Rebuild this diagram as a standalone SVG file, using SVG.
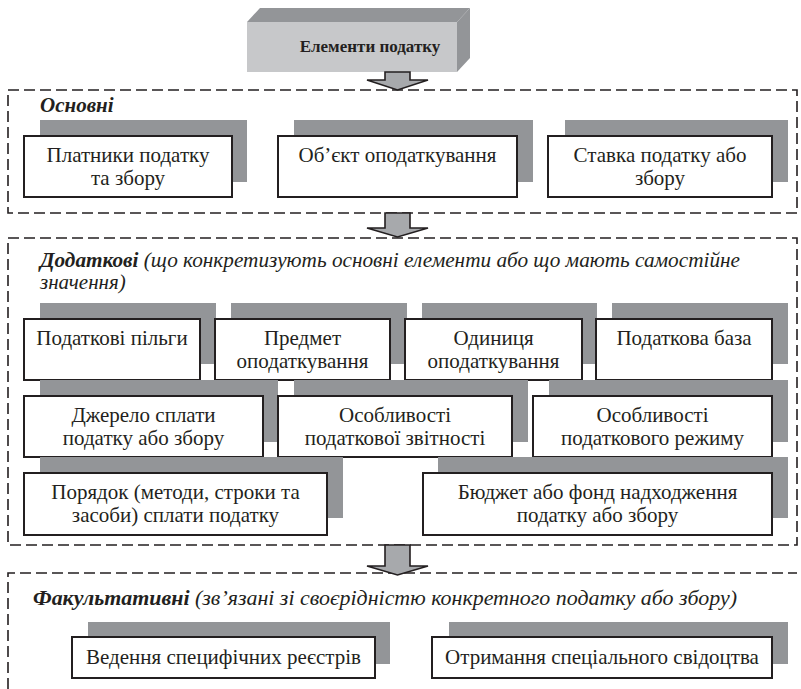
<svg xmlns="http://www.w3.org/2000/svg" width="801" height="689" viewBox="0 0 801 689" font-family="'Liberation Serif', 'Times New Roman', serif">
  <style>
    .bg { fill: #ffffff; }
    .shadow { fill: #939598; }
    .box { fill: #ffffff; stroke: #231f20; stroke-width: 2; }
    .group { fill: none; stroke: #231f20; stroke-width: 1.6; stroke-dasharray: 11 5; }
    .arrow { fill: #a7a9ac; stroke: #231f20; stroke-width: 1.6; stroke-linejoin: miter; }
    text { fill: #231f20; }
    .t { font-size: 21px; text-anchor: middle; }
    .h { font-size: 21px; font-style: italic; }
    .hb { font-weight: bold; }
    .title { font-size: 17px; font-weight: bold; text-anchor: middle; }
  </style>
  <rect class="bg" x="0" y="0" width="801" height="689"/>

  <!-- dashed group frames -->
  <g id="groups">
    <rect class="group" x="8" y="90" width="789" height="123"/>
    <rect class="group" x="8" y="238" width="789" height="307"/>
    <path class="group" d="M8,689 V573 H797"/>
  </g>

  <!-- header block drawn as a raised slab -->
  <g id="title">
    <polygon points="247,22 260,8 470,8 457,22" fill="#939598"/>
    <polygon points="457,22 470,8 470,58 457,72" fill="#939598"/>
    <rect x="247" y="22" width="210" height="50" fill="#c7c8ca"/>
    <text class="title" x="370" y="52">Елементи податку</text>
  </g>

  <!-- block arrows between sections -->
  <g id="connectors">
    <path class="arrow" d="M385,72 H410 V80 H428 L397.5,90 L367,80 H385 Z"/>
    <path class="arrow" d="M385,213 H410 V228 H428 L397.5,237 L367,228 H385 Z"/>
    <path class="arrow" d="M385,545 H410 V566 H428 L397.5,575 L367,566 H385 Z"/>
  </g>

  <!-- section headings -->
  <g id="label-main">
    <text class="h hb" x="40" y="112">Основні</text>
  </g>
  <g id="label-extra">
    <text class="h" x="40" y="267" textLength="700" lengthAdjust="spacingAndGlyphs"><tspan class="hb">Додаткові</tspan> (що конкретизують основні елементи або що мають самостійне</text>
    <text class="h" x="40" y="289">значення)</text>
  </g>
  <g id="label-optional">
    <text class="h" x="33" y="605" textLength="704" lengthAdjust="spacingAndGlyphs"><tspan class="hb">Факультативні</tspan> (зв’язані зі своєрідністю конкретного податку або збору)</text>
  </g>

  <!-- main elements -->
  <g id="n-payers">
    <rect class="shadow" x="40" y="120" width="207" height="62"/>
    <rect class="box" x="24" y="136" width="208" height="61"/>
    <text class="t" x="128" y="162">Платники податку</text>
    <text class="t" x="128" y="185">та збору</text>
  </g>
  <g id="n-object">
    <rect class="shadow" x="294" y="120" width="239" height="62"/>
    <rect class="box" x="278" y="136" width="239" height="61"/>
    <text class="t" x="397.5" y="162">Об’єкт оподаткування</text>
  </g>
  <g id="n-rate">
    <rect class="shadow" x="565" y="120" width="223" height="62"/>
    <rect class="box" x="548" y="136" width="224" height="61"/>
    <text class="t" x="660" y="162">Ставка податку або</text>
    <text class="t" x="660" y="185">збору</text>
  </g>

  <!-- additional elements, row 1 -->
  <g id="n-benefits">
    <rect class="shadow" x="40" y="303" width="176" height="61"/>
    <rect class="box" x="24" y="319" width="176" height="61"/>
    <text class="t" x="112" y="345">Податкові пільги</text>
  </g>
  <g id="n-subject">
    <rect class="shadow" x="231" y="303" width="176" height="61"/>
    <rect class="box" x="215" y="319" width="175" height="61"/>
    <text class="t" x="302.5" y="345">Предмет</text>
    <text class="t" x="302.5" y="368">оподаткування</text>
  </g>
  <g id="n-unit">
    <rect class="shadow" x="422" y="303" width="175" height="61"/>
    <rect class="box" x="405" y="319" width="177" height="61"/>
    <text class="t" x="493.5" y="345">Одиниця</text>
    <text class="t" x="493.5" y="368">оподаткування</text>
  </g>
  <g id="n-base">
    <rect class="shadow" x="612" y="303" width="176" height="61"/>
    <rect class="box" x="596" y="319" width="176" height="61"/>
    <text class="t" x="684" y="345">Податкова база</text>
  </g>

  <!-- additional elements, row 2 -->
  <g id="n-source">
    <rect class="shadow" x="40" y="380" width="238" height="62"/>
    <rect class="box" x="24" y="396" width="239" height="61"/>
    <text class="t" x="143.5" y="422">Джерело сплати</text>
    <text class="t" x="143.5" y="445">податку або збору</text>
  </g>
  <g id="n-reporting">
    <rect class="shadow" x="294" y="380" width="234" height="62"/>
    <rect class="box" x="278" y="396" width="234" height="61"/>
    <text class="t" x="395" y="422">Особливості</text>
    <text class="t" x="395" y="445">податкової звітності</text>
  </g>
  <g id="n-regime">
    <rect class="shadow" x="549" y="380" width="239" height="62"/>
    <rect class="box" x="533" y="396" width="239" height="61"/>
    <text class="t" x="652.5" y="422">Особливості</text>
    <text class="t" x="652.5" y="445">податкового режиму</text>
  </g>

  <!-- additional elements, row 3 -->
  <g id="n-procedure">
    <rect class="shadow" x="40" y="457" width="303" height="61"/>
    <rect class="box" x="24" y="473" width="303" height="62"/>
    <text class="t" x="175.5" y="499">Порядок (методи, строки та</text>
    <text class="t" x="175.5" y="522">засоби) сплати податку</text>
  </g>
  <g id="n-budget">
    <rect class="shadow" x="438" y="457" width="350" height="61"/>
    <rect class="box" x="423" y="473" width="349" height="62"/>
    <text class="t" x="597.5" y="499">Бюджет або фонд надходження</text>
    <text class="t" x="597.5" y="522">податку або збору</text>
  </g>

  <!-- optional elements -->
  <g id="n-registers">
    <rect class="shadow" x="88" y="622" width="302" height="42"/>
    <rect class="box" x="72" y="637" width="303" height="41"/>
    <text class="t" x="223.5" y="664">Ведення специфічних реєстрів</text>
  </g>
  <g id="n-certificate">
    <rect class="shadow" x="449" y="622" width="339" height="42"/>
    <rect class="box" x="432" y="637" width="340" height="41"/>
    <text class="t" x="602" y="664">Отримання спеціального свідоцтва</text>
  </g>
</svg>
